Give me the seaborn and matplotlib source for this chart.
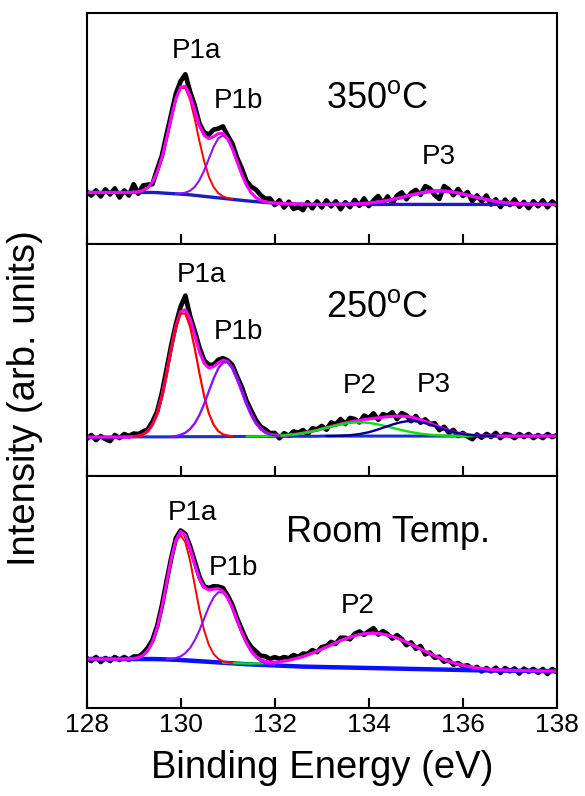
"""
XPS fit of the P 2p region at three annealing temperatures.
"""
import numpy as np
import matplotlib
matplotlib.use("Agg")
import matplotlib.pyplot as plt
import seaborn as sns

# ---------------------------------------------------------
# Data (intensity in arb. units)
# ---------------------------------------------------------
energy = np.round(np.arange(128.0, 138.05, 0.1), 1)   # binding energy grid, eV

# 350 C
top_data = [
    53.0, 49.0, 54.0, 48.0, 55.0, 50.0, 56.0, 47.0, 54.0, 49.0,
    60.2, 50.7, 59.0, 59.7, 60.3, 74.9, 88.6, 109.8, 130.3, 151.1,
    163.5, 170.3, 153.0, 139.0, 120.9, 112.1, 109.9, 114.9, 115.9, 118.1,
    108.9, 100.8, 86.8, 76.0, 63.3, 57.7, 54.9, 49.2, 45.7, 45.9,
    39.4, 44.1, 36.9, 42.7, 35.5, 37.4, 34.3, 42.2, 36.1, 43.0,
    37.0, 44.0, 38.1, 43.1, 35.2, 42.2, 37.3, 44.5, 38.7, 46.0,
    38.4, 43.8, 48.4, 41.1, 47.9, 40.9, 48.9, 52.0, 45.2, 51.4,
    54.5, 49.5, 58.3, 56.0, 49.4, 45.5, 58.4, 55.0, 49.3, 55.5,
    48.5, 52.4, 43.2, 49.0, 42.9, 48.9, 39.9, 45.1, 37.4, 44.8,
    39.4, 45.0, 37.7, 42.5, 36.3, 43.2, 38.2, 44.1, 37.1, 43.0,
    39.0,
]
top_bkg = [
    52.0, 52.0, 52.0, 52.0, 52.0, 52.0, 52.0, 52.0, 52.0, 52.0,
    52.0, 52.0, 52.0, 52.0, 52.0, 51.8, 51.5, 51.2, 50.9, 50.6,
    50.3, 50.0, 49.6, 49.1, 48.6, 48.1, 47.6, 47.1, 46.6, 46.1,
    45.6, 45.1, 44.6, 44.1, 43.6, 43.2, 42.8, 42.4, 42.0, 41.7,
    41.4, 41.1, 40.9, 40.7, 40.5, 40.4, 40.3, 40.2, 40.1, 40.0,
    40.0, 40.0, 40.0, 40.0, 40.0, 40.0, 40.0, 40.0, 40.0, 40.0,
    40.0, 40.0, 40.0, 40.0, 40.0, 40.0, 40.0, 40.0, 40.0, 40.0,
    40.0, 40.0, 40.0, 40.0, 40.0, 40.0, 40.0, 40.0, 40.0, 40.0,
    40.0, 40.0, 40.0, 40.0, 40.0, 40.0, 40.0, 40.0, 40.0, 40.0,
    40.0, 40.0, 40.0, 40.0, 40.0, 40.0, 40.0, 40.0, 40.0, 40.0,
    40.0,
]
top_p1a_start = 129.0
top_p1a = [0.2, 0.7, 2.0, 4.7, 10.3, 20.1, 35.1, 54.6, 76.4, 95.3, 106.5,
           106.5, 95.3, 76.4, 54.6, 35.1, 20.1, 10.3, 4.7, 2.0, 0.7, 0.2]
top_p1b_start = 129.9
top_p1b = [0.2, 0.7, 1.8, 4.1, 8.5, 15.7, 25.9, 38.2, 50.5, 59.6, 63.0,
           59.6, 50.5, 38.2, 25.9, 15.7, 8.5, 4.1, 1.8, 0.7, 0.2]
top_p3_start = 133.1
top_p3 = [0.0, 0.1, 0.1, 0.2, 0.2, 0.3, 0.5, 0.7, 1.0, 1.4,
          1.8, 2.4, 3.1, 3.9, 4.9, 5.9, 7.0, 8.2, 9.4, 10.5,
          11.5, 12.3, 13.0, 13.4, 13.5, 13.4, 13.0, 12.3, 11.5, 10.5,
          9.4, 8.2, 7.0, 5.9, 4.9, 3.9, 3.1, 2.4, 1.8, 1.4,
          1.0, 0.7, 0.5, 0.3, 0.2, 0.2, 0.1, 0.1, 0.0]

# 250 C
mid_data = [
    37.0, 41.0, 36.0, 40.0, 37.0, 35.0, 41.0, 38.0, 42.0, 40.0,
    42.5, 42.0, 44.5, 46.7, 54.2, 64.5, 82.8, 106.5, 130.9, 152.3,
    169.6, 180.6, 160.3, 145.2, 128.5, 115.8, 111.2, 111.5, 116.3, 118.0,
    115.7, 111.3, 99.7, 89.1, 75.4, 65.5, 56.1, 49.4, 46.7, 42.8,
    43.1, 37.8, 42.8, 40.2, 44.6, 43.2, 46.0, 41.8, 47.7, 46.8,
    50.1, 46.4, 53.6, 51.8, 57.0, 52.1, 58.1, 57.0, 53.7, 60.5,
    58.1, 62.7, 56.3, 61.9, 60.4, 63.8, 57.0, 63.0, 60.7, 55.0,
    60.0, 53.4, 56.7, 51.9, 52.9, 46.0, 49.2, 43.5, 46.1, 40.1,
    43.1, 39.5, 36.9, 41.6, 38.4, 42.2, 39.1, 43.1, 38.0, 42.0,
    41.0, 38.0, 42.0, 39.0, 42.0, 38.0, 41.0, 38.0, 42.0, 39.0,
    41.0,
]
mid_bkg = [
    39.0, 39.0, 39.0, 39.0, 39.0, 39.0, 39.0, 39.0, 39.0, 39.0,
    39.2, 39.2, 39.2, 39.2, 39.2, 39.2, 39.2, 39.2, 39.2, 39.2,
    39.4, 39.4, 39.4, 39.4, 39.4, 39.4, 39.4, 39.4, 39.4, 39.4,
    39.6, 39.6, 39.6, 39.6, 39.6, 39.6, 39.6, 39.6, 39.6, 39.6,
    39.8, 39.8, 39.8, 39.8, 39.8, 39.8, 39.8, 39.8, 39.8, 39.8,
    40.0, 40.0, 40.0, 40.0, 40.0, 40.0, 40.0, 40.0, 40.0, 40.0,
    40.0, 40.0, 40.0, 40.0, 40.0, 40.0, 40.0, 40.0, 40.0, 40.0,
    40.0, 40.0, 40.0, 40.0, 40.0, 40.0, 40.0, 40.0, 40.0, 40.0,
    40.0, 40.0, 40.0, 40.0, 40.0, 40.0, 40.0, 40.0, 40.0, 40.0,
    40.0, 40.0, 40.0, 40.0, 40.0, 40.0, 40.0, 40.0, 40.0, 40.0,
    40.0,
]
mid_p1a_start = 129.0
mid_p1a = [0.3, 0.8, 2.3, 5.5, 12.0, 23.3, 40.6, 63.3, 88.4, 110.3, 123.3,
           123.3, 110.3, 88.4, 63.3, 40.6, 23.3, 12.0, 5.5, 2.3, 0.8, 0.3]
mid_p1b_start = 129.8
mid_p1b = [0.3, 0.8, 1.9, 3.9, 7.6, 13.4, 21.8, 32.8, 45.5, 58.1, 68.4, 74.3,
           74.3, 68.4, 58.1, 45.5, 32.8, 21.8, 13.4, 7.6, 3.9, 1.9, 0.8, 0.3]
mid_p2_start = 131.4
mid_p2 = [0.0, 0.1, 0.1, 0.2, 0.2, 0.3, 0.5, 0.7, 1.0, 1.4,
          1.8, 2.4, 3.2, 4.0, 4.9, 6.0, 7.1, 8.3, 9.5, 10.6,
          11.6, 12.5, 13.2, 13.6, 13.7, 13.6, 13.2, 12.5, 11.6, 10.6,
          9.5, 8.3, 7.1, 6.0, 4.9, 4.0, 3.2, 2.4, 1.8, 1.4,
          1.0, 0.7, 0.5, 0.3, 0.2, 0.2, 0.1, 0.1, 0.0]
mid_p3_start = 133.1
mid_p3 = [0.1, 0.1, 0.2, 0.4, 0.6, 0.9, 1.4, 2.0, 2.9, 3.9,
          5.2, 6.7, 8.3, 9.9, 11.5, 12.9, 14.0, 14.8, 15.0, 14.8,
          14.0, 12.9, 11.5, 9.9, 8.3, 6.7, 5.2, 3.9, 2.9, 2.0,
          1.4, 0.9, 0.6, 0.4, 0.2, 0.1, 0.1]

# Room temperature
bot_data = [
    49.7, 46.7, 50.7, 45.7, 49.7, 46.7, 50.7, 47.7, 50.7, 47.9,
    51.2, 51.1, 54.3, 59.9, 67.6, 81.7, 101.9, 126.5, 150.0, 170.0,
    177.4, 173.9, 161.8, 146.4, 130.9, 121.4, 119.8, 121.6, 121.2, 119.8,
    112.2, 102.8, 89.5, 78.3, 67.8, 60.7, 56.4, 52.0, 51.4, 48.7,
    50.6, 48.9, 50.6, 49.5, 52.6, 50.8, 54.1, 53.8, 57.6, 55.6,
    60.6, 61.7, 65.8, 63.9, 70.0, 69.9, 68.6, 74.0, 76.2, 73.0,
    76.5, 79.6, 73.3, 76.6, 73.6, 69.2, 72.6, 68.7, 62.6, 65.3,
    59.0, 61.7, 53.4, 55.2, 50.0, 51.0, 46.1, 47.5, 43.0, 44.6,
    41.4, 42.4, 38.5, 40.8, 36.3, 39.7, 36.4, 40.0, 34.8, 39.6,
    36.4, 39.2, 34.2, 39.0, 35.9, 38.8, 34.8, 38.7, 33.7, 38.6,
    35.6,
]
bot_bkg = [
    48.7, 48.7, 48.7, 48.7, 48.7, 48.7, 48.7, 48.7, 48.7, 48.7,
    48.7, 48.7, 48.7, 48.7, 48.7, 48.6, 48.5, 48.3, 48.1, 47.9,
    47.7, 47.4, 47.1, 46.8, 46.5, 46.2, 45.9, 45.6, 45.3, 45.0,
    44.7, 44.4, 44.1, 43.8, 43.5, 43.3, 43.1, 42.9, 42.7, 42.5,
    42.3, 42.1, 41.9, 41.7, 41.5, 41.3, 41.1, 41.0, 40.9, 40.8,
    40.7, 40.6, 40.5, 40.4, 40.3, 40.2, 40.1, 40.0, 39.9, 39.8,
    39.7, 39.6, 39.5, 39.4, 39.3, 39.2, 39.1, 39.0, 38.9, 38.8,
    38.7, 38.6, 38.5, 38.4, 38.3, 38.2, 38.1, 38.0, 37.9, 37.8,
    37.7, 37.6, 37.5, 37.4, 37.4, 37.3, 37.3, 37.2, 37.2, 37.1,
    37.1, 37.0, 37.0, 36.9, 36.9, 36.8, 36.8, 36.7, 36.7, 36.6,
    36.6,
]
bot_p1a_start = 128.9
bot_p1a = [0.2, 0.5, 1.4, 3.6, 8.2, 16.9, 31.1, 51.4, 75.9, 100.1, 118.3, 125.0,
           118.3, 100.1, 75.9, 51.4, 31.1, 16.9, 8.2, 3.6, 1.4, 0.5, 0.2]
bot_p1b_start = 129.7
bot_p1b = [0.3, 0.8, 1.8, 3.7, 7.2, 12.6, 20.7, 31.0, 43.1, 55.0, 64.8, 70.3,
           70.3, 64.8, 55.0, 43.1, 31.0, 20.7, 12.6, 7.2, 3.7, 1.8, 0.8, 0.3]
bot_p2_start = 130.9
bot_p2 = [0.1, 0.2, 0.2, 0.3, 0.5, 0.6, 0.8, 1.1, 1.4, 1.9,
          2.4, 3.0, 3.8, 4.7, 5.8, 7.1, 8.5, 10.0, 11.8, 13.7,
          15.8, 17.9, 20.1, 22.3, 24.5, 26.7, 28.7, 30.5, 32.0, 33.3,
          34.2, 34.8, 35.0, 34.8, 34.2, 33.3, 32.0, 30.5, 28.7, 26.7,
          24.5, 22.3, 20.1, 17.9, 15.8, 13.7, 11.8, 10.0, 8.5, 7.1,
          5.8, 4.7, 3.8, 3.0, 2.4, 1.9, 1.4, 1.1, 0.8, 0.6,
          0.5, 0.3, 0.2, 0.2, 0.1]

# ---------------------------------------------------------
# Style
# ---------------------------------------------------------
sns.set_style("ticks")
plt.rcParams["font.family"] = ["Liberation Sans", "DejaVu Sans"]
plt.rcParams["mathtext.fontset"] = "custom"
plt.rcParams["mathtext.rm"] = "Liberation Sans"
plt.rcParams["text.color"] = "black"
plt.rcParams["axes.labelcolor"] = "black"
plt.rcParams["xtick.color"] = "black"
plt.rcParams["axes.edgecolor"] = "black"

RED = "#ff0000"
VIOLET = "#8a10ff"
MAGENTA = "#ff00ff"
GREEN = "#00e600"
NAVY = "#000090"


def place(start, values):
    i0 = int(round((start - 128.0) / 0.1))
    return i0, i0 + len(values)


def draw_panel(ax, data, bkg, bkg_color, bkg_lw, comps, fit_first):
    """comps: list of (start, values, color, lw) in draw order."""
    bkg = np.asarray(bkg)
    fit = bkg.copy()
    for start, values, _, _ in comps:
        i0, i1 = place(start, values)
        fit[i0:i1] += np.asarray(values)

    sns.lineplot(x=energy, y=data, ax=ax, color="black", linewidth=3.4,
                 estimator=None, sort=False)
    sns.lineplot(x=energy, y=bkg, ax=ax, color=bkg_color, linewidth=bkg_lw,
                 estimator=None, sort=False)
    if fit_first:
        sns.lineplot(x=energy, y=fit, ax=ax, color=MAGENTA, linewidth=2.2,
                     estimator=None, sort=False)
    for start, values, color, lw in comps:
        i0, i1 = place(start, values)
        sns.lineplot(x=energy[i0:i1], y=bkg[i0:i1] + np.asarray(values), ax=ax,
                     color=color, linewidth=lw, estimator=None, sort=False)
    if not fit_first:
        sns.lineplot(x=energy, y=fit, ax=ax, color=MAGENTA, linewidth=2.2,
                     estimator=None, sort=False)


fig, axes = plt.subplots(3, 1, sharex=True, figsize=(5.85, 7.96), dpi=100)
fig.subplots_adjust(left=0.148, right=0.952, top=0.984, bottom=0.111, hspace=0)

ax_top, ax_mid, ax_bot = axes

draw_panel(ax_top, top_data, top_bkg, "#1c1cc0", 2.4,
           [(top_p3_start, top_p3, "#2030ff", 2.4),
            (top_p1a_start, top_p1a, RED, 1.4),
            (top_p1b_start, top_p1b, VIOLET, 1.5)], fit_first=False)
draw_panel(ax_mid, mid_data, mid_bkg, "#1a30c8", 2.2,
           [(mid_p2_start, mid_p2, GREEN, 1.7),
            (mid_p3_start, mid_p3, NAVY, 1.7),
            (mid_p1a_start, mid_p1a, RED, 1.6),
            (mid_p1b_start, mid_p1b, VIOLET, 1.7)], fit_first=True)
draw_panel(ax_bot, bot_data, bot_bkg, "#0a10ff", 3.2,
           [(bot_p2_start, bot_p2, GREEN, 1.7),
            (bot_p1a_start, bot_p1a, RED, 1.4),
            (bot_p1b_start, bot_p1b, VIOLET, 1.5)], fit_first=False)

for ax in axes:
    ax.set_xlim(128, 138)
    ax.set_ylim(0, 232)
    ax.set_yticks([])
    ax.set_ylabel("")
    ax.set_xticks([128, 130, 132, 134, 136, 138])
    ax.tick_params(axis="x", direction="in", length=7, width=1.5,
                   bottom=True, top=False, labelsize=19, pad=4,
                   colors="black")
    for sp in ax.spines.values():
        sp.set_visible(True)
        sp.set_linewidth(1.5)
        sp.set_color("black")

ax_bot.set_xlabel("Binding Energy (eV)", fontsize=27.5, labelpad=9,
                  color="black")
fig.text(0.043, 0.5, "Intensity (arb. units)", rotation=90, fontsize=27.5,
         ha="center", va="center", color="black")

lab = dict(ha="center", va="baseline", fontsize=20, color="black")
big = dict(ha="center", va="baseline", fontsize=26, color="black")

ax_top.text(130.33, 187, "P1a", **lab)
ax_top.text(131.23, 137, "P1b", **lab)
ax_top.text(135.48, 80, "P3", **lab)
ax_top.text(134.17, 137, "350$^{\\rm o}$C", **big)

ax_mid.text(130.44, 194, "P1a", **lab)
ax_mid.text(131.22, 137, "P1b", **lab)
ax_mid.text(133.81, 83, "P2", **lab)
ax_mid.text(135.38, 84, "P3", **lab)
ax_mid.text(134.17, 159, "250$^{\\rm o}$C", **big)

ax_bot.text(130.25, 188, "P1a", **lab)
ax_bot.text(131.12, 133, "P1b", **lab)
ax_bot.text(133.77, 95, "P2", **lab)
ax_bot.text(134.41, 166, "Room Temp.", **big)

fig.savefig("out.png", dpi=100)
